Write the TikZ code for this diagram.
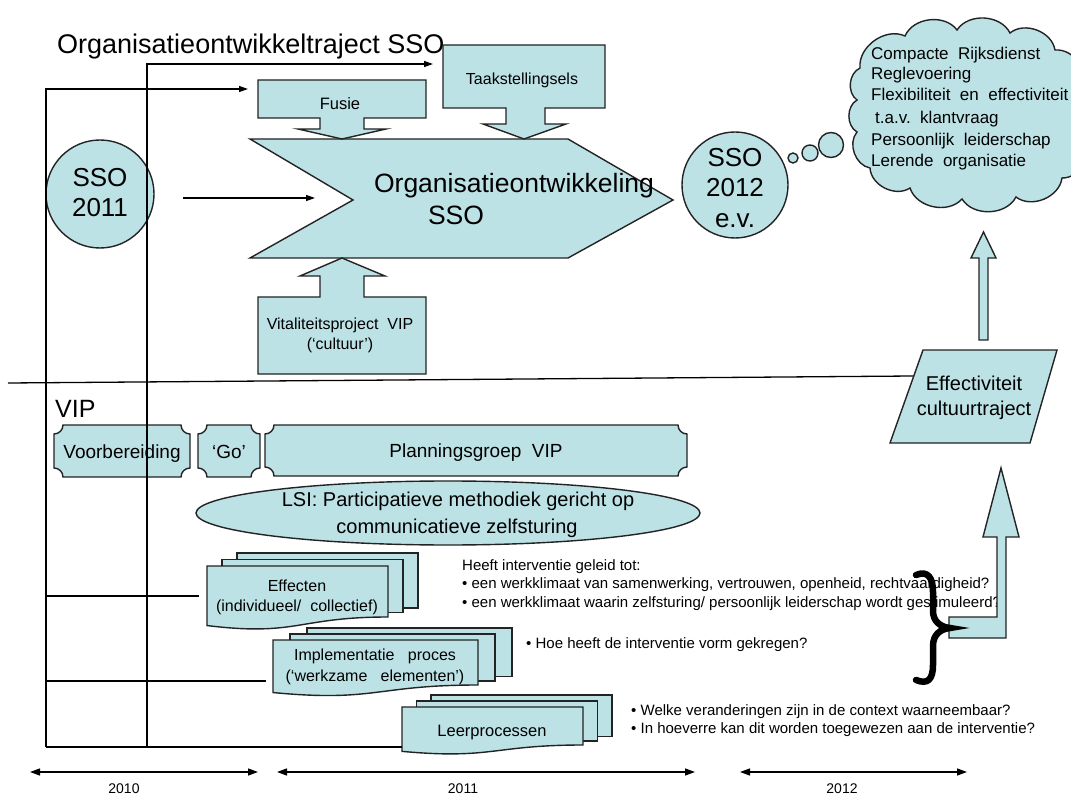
\documentclass[tikz,border=0pt]{standalone}
\usepackage{fontspec}
\setmainfont{Liberation Sans}
\usetikzlibrary{arrows.meta}
\definecolor{boxfill}{RGB}{189,226,230}
\definecolor{edgec}{RGB}{35,35,35}
\newcommand\fsz[2]{\fontsize{#1pt}{#2pt}\selectfont}
% concave-corner plaque: x1 y1 x2 y2 r
\newcommand\plaque[5]{%
  \filldraw[shp] (#1+#5,#2) -- (#3-#5,#2)
   .. controls (#3-#5,#2+0.55*#5) and (#3-0.55*#5,#2+#5) .. (#3,#2+#5)
   -- (#3,#4-#5)
   .. controls (#3-0.55*#5,#4-#5) and (#3-#5,#4-0.55*#5) .. (#3-#5,#4)
   -- (#1+#5,#4)
   .. controls (#1+#5,#4-0.55*#5) and (#1+0.55*#5,#4-#5) .. (#1,#4-#5)
   -- (#1,#2+#5)
   .. controls (#1+0.55*#5,#2+#5) and (#1+#5,#2+0.55*#5) .. cycle;}
% document page with wavy bottom: x1 top x2 yR
\newcommand\docpage[4]{%
  \filldraw[shp] (#1,#2) -- (#3,#2) -- (#3,#4)
   .. controls ({(#1+#3)/2},#4) and ({(#1+#3)/2},{#4+0.385*(#4-#2)}) .. (#1,{#4+0.1675*(#4-#2)})
   -- cycle;}
% stacked documents: x1 top x2 yR, dx, dy
\newcommand\mdoc[6]{%
  \filldraw[shp] (#1+2*#5,#2-2*#6) rectangle (#3+2*#5,#4-1.4*#6);
  \filldraw[shp] (#1+#5,#2-#6) rectangle (#3+#5,#4-0.7*#6);
  \docpage{#1}{#2}{#3}{#4}}
\begin{document}
\begin{tikzpicture}[x=1pt,y=-1pt,
  shp/.style={draw=edgec, fill=boxfill, line width=1.4pt},
  conn/.style={draw=black, line width=1.3pt},
  arr/.style={conn, -{Triangle[length=9pt,width=6pt]}},
  tarr/.style={conn, {Triangle[length=10pt,width=7pt]}-{Triangle[length=10pt,width=7pt]}},
  txt/.style={inner sep=0pt, text=black},
  bl/.style={txt, anchor=base},
  bw/.style={txt, anchor=base west},
  puff/.style={bend left=60}]
\useasboundingbox (0,0) rectangle (1071,794);
\clip (0,0) rectangle (1071,794);
\fill[white] (0,0) rectangle (1071,794);

% ---------- upper part ----------
\node[bw, font=\fsz{27}{32}] (title) at (57,54) {Organisatieontwikkeltraject SSO};

% chevron
\filldraw[shp] (250,139) -- (568,139) -- (673,200) -- (568,258) -- (250,258) -- (353,200) -- cycle;
\node[bl, font=\fsz{26.5}{30}] (org1) at (514,193) {Organisatieontwikkeling};
\node[bl, font=\fsz{26.5}{30}] (org2) at (456,225) {SSO};

% Fusie block arrow
\filldraw[shp] (258,80) -- (426,80) -- (426,118) -- (364,118) -- (364,129) -- (386,129) -- (342,139)
  -- (298,129) -- (320,129) -- (320,118) -- (258,118) -- cycle;
\node[bl, font=\fsz{16.5}{20}] (fusie) at (340,110) {Fusie};

% Taakstellingsels block arrow
\filldraw[shp] (443,45) -- (605,45) -- (605,108) -- (545,108) -- (545,124) -- (566,124) -- (524,139)
  -- (483,124) -- (506,124) -- (506,108) -- (443,108) -- cycle;
\node[bl, font=\fsz{16}{20}] (taak) at (522,85) {Taakstellingsels};

% Vitaliteitsproject block arrow (up)
\filldraw[shp] (258,374) -- (426,374) -- (426,297) -- (364,297) -- (364,276) -- (385,276) -- (342,258)
  -- (300,276) -- (320,276) -- (320,297) -- (258,297) -- cycle;
\node[txt, align=center, font=\fsz{16}{20}] (vip) at (340,335) {Vitaliteitsproject\ \ VIP\\(‘cultuur’)};

% SSO 2011
\node[shp, circle, minimum size=108pt, inner sep=0pt] (sso11) at (100,194) {};
\node[txt, align=center, font=\fsz{26}{30}] (sso11t) at (100,193) {SSO\\2011};
\coordinate (a11s) at (183,198);
\coordinate (a11e) at (315,198);
\draw[arr] (a11s) -- (a11e);

% SSO 2012
\node[shp, circle, minimum size=106pt, inner sep=0pt] (sso12) at (735,185) {};
\node[txt, align=center, font=\fsz{26}{30.5}] (sso12t) at (735,188) {SSO\\2012\\e.v.};

% cloud and thought bubbles
\filldraw[shp] (860,68) to[puff] (905,36) to[puff] (957,30) to[puff] (1010,33) to[puff] (1055,50)
  to[puff] (1083,90) to[puff] (1086,138) to[puff] (1062,178) to[puff] (1016,197) to[puff] (962,199)
  to[puff] (910,188) to[puff] (870,168) to[puff] (857,132) to[puff] (857,100) to[puff] cycle;
\node[shp, circle, minimum size=10pt, inner sep=0pt] (b1) at (793,158) {};
\node[shp, circle, minimum size=16pt, inner sep=0pt] (b2) at (810,153) {};
\node[shp, circle, minimum size=25pt, inner sep=0pt] (b3) at (831,145) {};
\node[bw, font=\fsz{17}{20}] (cl1) at (871,60) {Compacte\ \ Rijksdienst};
\node[bw, font=\fsz{17}{20}] (cl2) at (871,80) {Reglevoering};
\node[bw, font=\fsz{17}{20}] (cl3) at (871,101) {Flexibiliteit\ \ en\ \ effectiviteit};
\node[bw, font=\fsz{17}{20}] (cl4) at (875,124) {t.a.v.\ \ klantvraag};
\node[bw, font=\fsz{17}{20}] (cl5) at (871,146) {Persoonlijk\ \ leiderschap};
\node[bw, font=\fsz{17}{20}] (cl6) at (871,167) {Lerende\ \ organisatie};

% thin up arrow to cloud
\filldraw[shp] (979,340) -- (988,340) -- (988,258) -- (996,258) -- (983.5,232) -- (971,258) -- (979,258) -- cycle;

% Effectiviteit parallelogram
\filldraw[shp] (923,350) -- (1057,350) -- (1030,443) -- (890,443) -- cycle;
\node[txt, align=center, font=\fsz{20}{25}] (eff) at (974,398) {Effectiviteit\\cultuurtraject};

% separator line
\coordinate (sepL) at (8,383);
\coordinate (sepR) at (913,376);
\draw[conn] (sepL) -- (sepR);

% ---------- VIP part ----------
\node[bw, font=\fsz{25}{30}] (viplab) at (55,417) {VIP};
\plaque{54}{425}{190}{477}{9}
\node[bl, font=\fsz{19}{22}] (voorb) at (122,458) {Voorbereiding};
\plaque{198}{425}{260}{477}{9}
\node[bl, font=\fsz{19}{22}] (go) at (229,458) {‘Go’};
\plaque{265}{425}{687}{476}{9}
\node[bl, font=\fsz{19}{22}] (plan) at (476,457) {Planningsgroep\ \ VIP};

\filldraw[shp] (448,513) ellipse [x radius=252pt, y radius=32pt];
\node[bl, font=\fsz{20}{24}] (lsi1) at (458,506) {LSI: Participatieve methodiek gericht op};
\node[bl, font=\fsz{20}{24}] (lsi2) at (457,533) {communicatieve zelfsturing};

% stacked documents
\mdoc{207}{566}{388}{617}{15}{6.5}
\node[txt, align=center, font=\fsz{16}{20}] (effec) at (297,597) {Effecten\\(individueel/\ \ collectief)};
\mdoc{273}{640}{478}{685}{17}{6}
\node[txt, align=center, font=\fsz{16}{21}] (impl) at (375,667) {Implementatie\ \ \ proces\\(‘werkzame\ \ \ elementen’)};
\mdoc{402}{707}{583}{745}{14.5}{6}
\node[bl, font=\fsz{16.5}{20}] (leer) at (492,736) {Leerprocessen};

% notes
\node[bw, font=\fsz{15}{18}] (n1) at (462,570) {Heeft interventie geleid tot:};
\node[bw, font=\fsz{15}{18}] (n2) at (462,588) {• een werkklimaat van samenwerking, vertrouwen, openheid, rechtvaardigheid?};
\node[bw, font=\fsz{15}{18}] (n3) at (462,607) {• een werkklimaat waarin zelfsturing/ persoonlijk leiderschap wordt gestimuleerd?};
\node[bw, font=\fsz{15}{18}] (n4) at (526,648) {• Hoe heeft de interventie vorm gekregen?};
\node[bw, font=\fsz{15}{18}] (n5) at (631,715) {• Welke veranderingen zijn in de context waarneembaar?};
\node[bw, font=\fsz{15}{18}] (n6) at (631,733) {• In hoeverre kan dit worden toegewezen aan de interventie?};

% L-shaped arrow and brace
\filldraw[shp] (949,617) -- (997,617) -- (997,537) -- (983,537) -- (1001,468) -- (1019,537) -- (1006,537)
  -- (1006,638) -- (949,638) -- cycle;
\draw[black, line width=6.5pt, line cap=round]
  (916,575) .. controls (928,570) and (933,578) .. (933,592) -- (933,611)
  .. controls (933,621) and (940,627) .. (950,628)
  .. controls (940,629) and (933,635) .. (933,646) -- (933,665)
  .. controls (933,679) and (928,685) .. (916,680);

% ---------- frame lines ----------
\coordinate (vA1) at (46,89);
\coordinate (vA2) at (46,747);
\coordinate (vB1) at (147,64);
\coordinate (vB2) at (147,747);
\coordinate (fusieIn) at (248,89);
\coordinate (taakIn) at (433,64);
\coordinate (leerIn) at (402,747);
\coordinate (effL) at (46,596);
\coordinate (effIn) at (199,596);
\coordinate (implL) at (46,681);
\coordinate (implIn) at (266,681);
\draw[arr] (vA2) -- (vA1) -- (fusieIn);
\draw[arr] (vB2) -- (vB1) -- (taakIn);
\draw[conn] (vA2) -- (leerIn);
\draw[conn] (effL) -- (effIn);
\draw[conn] (implL) -- (implIn);

% ---------- timeline ----------
\coordinate (t1a) at (30,772); \coordinate (t1b) at (258,772);
\coordinate (t2a) at (277,772); \coordinate (t2b) at (695,772);
\coordinate (t3a) at (740,772); \coordinate (t3b) at (967,772);
\draw[tarr] (t1a) -- (t1b);
\draw[tarr] (t2a) -- (t2b);
\draw[tarr] (t3a) -- (t3b);
\node[bl, font=\fsz{14}{16}] (y10) at (124,793) {2010};
\node[bl, font=\fsz{14}{16}] (y11) at (463,793) {2011};
\node[bl, font=\fsz{14}{16}] (y12) at (842,793) {2012};
\end{tikzpicture}
\end{document}
